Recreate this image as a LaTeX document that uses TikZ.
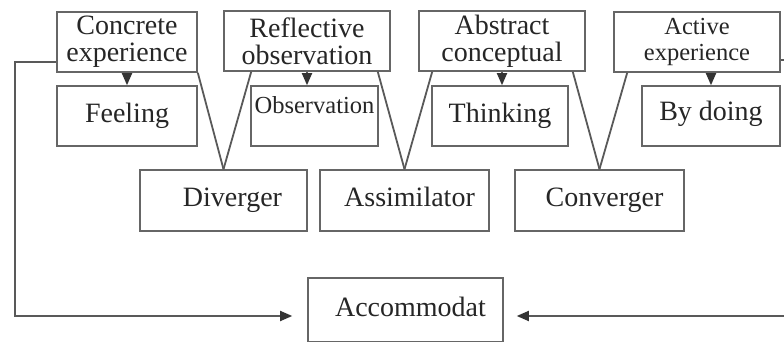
\documentclass[tikz,border=0pt]{standalone}
\usepackage{fontspec}
\setmainfont{Liberation Serif}
\usetikzlibrary{arrows.meta,positioning,calc}

\begin{document}
\begin{tikzpicture}[x=0.5pt,y=-0.5pt,>=Latex,every node/.style={align=center},
  box/.style={draw=black!60,line width=0.8pt,fill=white,inner sep=0pt,text=black!85,font=\fontsize{14}{13.5}\selectfont},
  smallbox/.style={box,font=\fontsize{12.25}{13}\selectfont},
  onebox/.style={box,text height=9.5pt,text depth=3pt},
  link/.style={draw=black!65,line width=0.9pt},
  tip/.style={link,-{Triangle[width=5pt,length=6pt,color=black!80]}}]
  \useasboundingbox (0,0) rectangle (784,342);
  \clip (0,0) rectangle (784,342);
  % learning stages
  \node[box,minimum width=70pt,minimum height=30pt] (conc) at (127,42) {Concrete\\experience};
  \node[box,minimum width=83pt,minimum height=30pt] (refl) at (307,41) {Reflective\\observation};
  \node[box,minimum width=83pt,minimum height=30pt] (abst) at (502,41) {Abstract\\conceptual};
  \node[smallbox,minimum width=83pt,minimum height=30pt] (actv) at (697,42) {Active\\experience};
  % ways of learning
  \node[onebox,minimum width=70pt,minimum height=30pt] (feel) at (127,116) {Feeling};
  \node[smallbox,minimum width=63.5pt,minimum height=30pt,text depth=11pt] (obsv) at (314.5,116) {Observation};
  \node[onebox,minimum width=68pt,minimum height=30pt] (thnk) at (500,116) {Thinking};
  \node[onebox,minimum width=69pt,minimum height=30pt,text depth=4.5pt] (bydo) at (711,116) {By doing};
  % styles
  \node[onebox,minimum width=83.5pt,minimum height=30.5pt] (divg) at (223.5,200.5) {\hspace*{9pt}Diverger};
  \node[onebox,minimum width=84.5pt,minimum height=30.5pt] (asim) at (404.5,200.5) {\hspace*{5pt}Assimilator};
  \node[onebox,minimum width=84.5pt,minimum height=30.5pt] (conv) at (599.5,200.5) {\hspace*{5pt}Converger};
  \node[onebox,minimum width=97.5pt,minimum height=32pt] (acco) at (405.5,310) {\hspace*{5pt}Accommodat};
  \draw[tip] (conc.south) -- (feel.north);
  \draw[tip] (refl.south) -- (refl.south |- obsv.north);
  \draw[tip] (abst.south) -- (abst.south |- thnk.north);
  \draw[tip] (actv.south -| bydo.north) -- (bydo.north);
  \draw[link] (conc.south east) -- (divg.north);
  \draw[link] ([xshift=14pt]refl.south west) -- (divg.north);
  \draw[link] ([xshift=-6.5pt]refl.south east) -- (asim.north);
  \draw[link] ([xshift=7pt]abst.south west) -- (asim.north);
  \draw[link] ([xshift=-6.5pt]abst.south east) -- (conv.north);
  \draw[link] ([xshift=7pt]actv.south west) -- (conv.north);
  % feedback loops
  \coordinate (lft) at (15,316);
  \coordinate (rgt) at (800,316);
  \draw[tip,shorten >=7.5pt] ([yshift=-10pt]conc.west) -| (lft) -- ([yshift=-3pt]acco.west);
  \draw[tip,shorten >=6.5pt] ([yshift=-9pt]actv.east) -| (rgt) -- ([yshift=-3pt]acco.east);
\end{tikzpicture}
\end{document}
